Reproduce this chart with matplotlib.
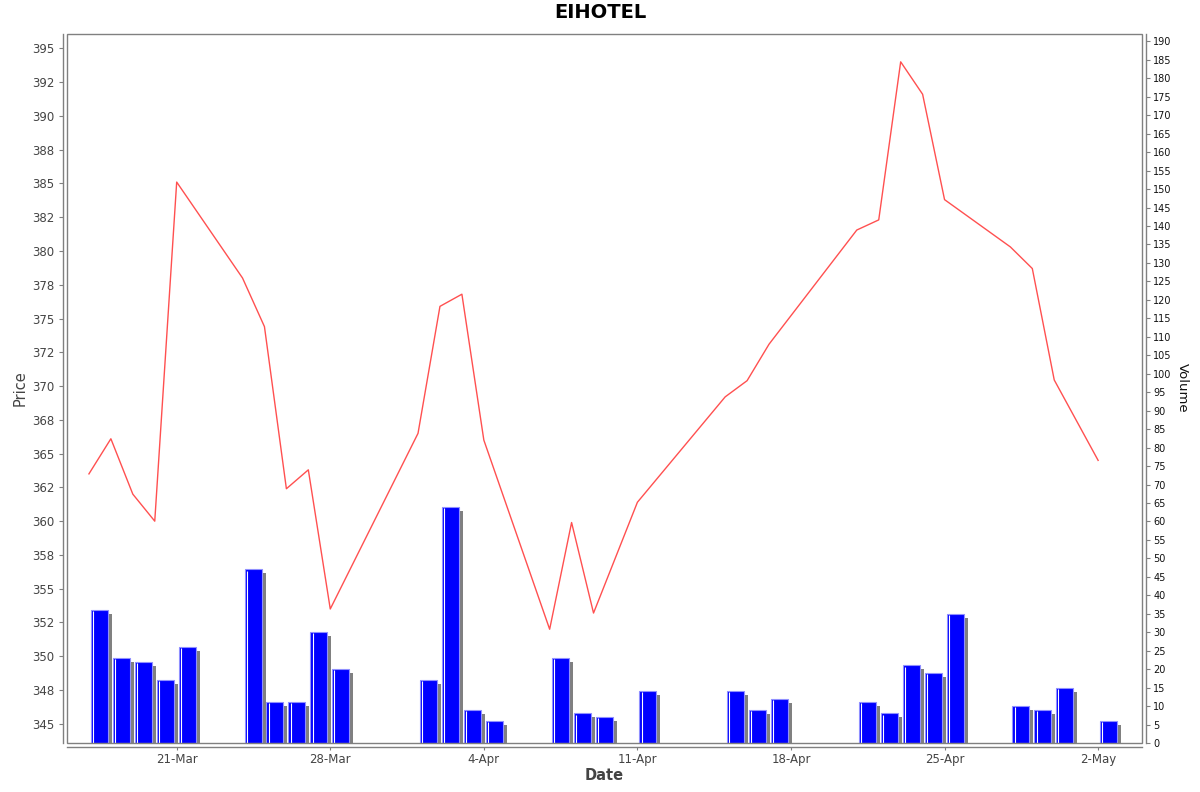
import numpy as np
import pandas as pd
import matplotlib
matplotlib.use('Agg')
import matplotlib.pyplot as plt
import matplotlib.dates as mdates
from matplotlib.patches import Rectangle
from matplotlib.ticker import FuncFormatter, FixedLocator

# trading days, closing price and volume
dates = ['2025-03-17', '2025-03-18', '2025-03-19', '2025-03-20', '2025-03-21',
         '2025-03-24', '2025-03-25', '2025-03-26', '2025-03-27', '2025-03-28',
         '2025-04-01', '2025-04-02', '2025-04-03', '2025-04-04',
         '2025-04-07', '2025-04-08', '2025-04-09', '2025-04-11',
         '2025-04-15', '2025-04-16', '2025-04-17',
         '2025-04-21', '2025-04-22', '2025-04-23', '2025-04-24', '2025-04-25',
         '2025-04-28', '2025-04-29', '2025-04-30', '2025-05-02']
price = [363.5, 366.1, 362.0, 360.0, 385.1,
         378.0, 374.4, 362.4, 363.8, 353.5,
         366.5, 375.9, 376.8, 366.0,
         352.0, 359.9, 353.2, 361.4,
         369.2, 370.4, 373.1,
         381.55, 382.3, 394.0, 391.6, 383.8,
         380.3, 378.7, 370.45, 364.5]
volume = [36, 23, 22, 17, 26,
          47, 11, 11, 30, 20,
          17, 64, 9, 6,
          23, 8, 7, 14,
          14, 9, 12,
          11, 8, 21, 19, 35,
          10, 9, 15, 6]
date_ticks = ['2025-03-21', '2025-03-28', '2025-04-04', '2025-04-11',
              '2025-04-18', '2025-04-25', '2025-05-02']

W, H = 1200, 792
fig = plt.figure(figsize=(W / 100, H / 100), dpi=100)
L, R, T, B = 67, 1142, 34, 743
ax = fig.add_axes([L / W, 1 - B / H, (R - L) / W, (B - T) / H])
ax2 = ax.twinx()
ax.set_zorder(ax2.get_zorder() + 1)
ax.patch.set_visible(False)

x = mdates.date2num(pd.to_datetime(dates))
xmin = mdates.date2num(pd.Timestamp('2025-03-16 00:00'))
xmax = mdates.date2num(pd.Timestamp('2025-05-04 00:00'))
px_day = (R - L) / (xmax - xmin)

# volume bars with a grey drop shadow
ax2.set_ylim(0, 192)
px_vol = (B - T) / 192
bar_x = x + 2 / px_day
bar_w = 17 / px_day
vol = np.array(volume, dtype=float)
ax2.bar(bar_x + 4 / px_day, vol - 4 / px_vol, width=bar_w, align='edge',
        color='#808080', linewidth=0, zorder=1)
ax2.bar(bar_x, vol, width=bar_w, align='edge', color='#0000ff',
        edgecolor='#9090ff', linewidth=0.8, zorder=2)
ax2.vlines(bar_x + 2.2 / px_day, 0, vol - 0.3, color='white', linewidth=0.8, zorder=3)

# price line
ax.plot(x, price, color='#ff5050', linewidth=1.0, zorder=5)

ax.set_xlim(xmin, xmax)
ax.set_ylim(343.58, 396.06)
ax.yaxis.set_major_locator(FixedLocator(np.arange(345, 395.1, 2.5)))
ax.yaxis.set_major_formatter(FuncFormatter(lambda v, p: f"{v:.0f}"))
ax.xaxis.set_major_locator(FixedLocator(mdates.date2num(pd.to_datetime(date_ticks))))
ax.xaxis.set_major_formatter(FuncFormatter(
    lambda v, p: f"{mdates.num2date(v).day}-{mdates.num2date(v):%b}"))
ax2.yaxis.set_major_locator(FixedLocator(np.arange(0, 191, 5)))
ax2.yaxis.set_major_formatter(FuncFormatter(lambda v, p: f"{v:.0f}"))

grey = '#808080'
for s in ['top', 'right']:
    ax.spines[s].set_visible(False)
for s in ['top', 'left', 'bottom']:
    ax2.spines[s].set_visible(False)
for sp in [ax.spines['left'], ax.spines['bottom'], ax2.spines['right']]:
    sp.set_position(('outward', 3))
    sp.set_color(grey)
    sp.set_linewidth(1.0)
ax.add_patch(Rectangle((0, 0), 1, 1, transform=ax.transAxes, fill=False,
                       edgecolor=grey, linewidth=1.0, clip_on=False, zorder=10))

ax.tick_params(axis='y', length=3, width=0.8, color=grey, pad=3,
               labelsize=8.5, labelcolor='#444444')
ax.tick_params(axis='x', length=2, width=0.8, color=grey, pad=2,
               labelsize=8.5, labelcolor='#444444')
ax2.tick_params(axis='y', length=3, width=0.8, color=grey, pad=2,
                labelsize=7, labelcolor='#111111')

fig.text(0.5, 1 - 13 / H, 'EIHOTEL', ha='center', va='center',
         fontsize=14, fontweight='bold', color='black')
fig.text((L + R) / 2 / W, 1 - 776 / H, 'Date', ha='center', va='center',
         fontsize=10.5, fontweight='bold', color='#444444')
fig.text(20 / W, 1 - 388 / H, 'Price', ha='center', va='center',
         rotation=90, fontsize=10.5, color='#444444')
fig.text(1182 / W, 1 - 388 / H, 'Volume', ha='center', va='center',
         rotation=270, fontsize=9.5, color='#111111')

fig.savefig('out.png', dpi=100)
